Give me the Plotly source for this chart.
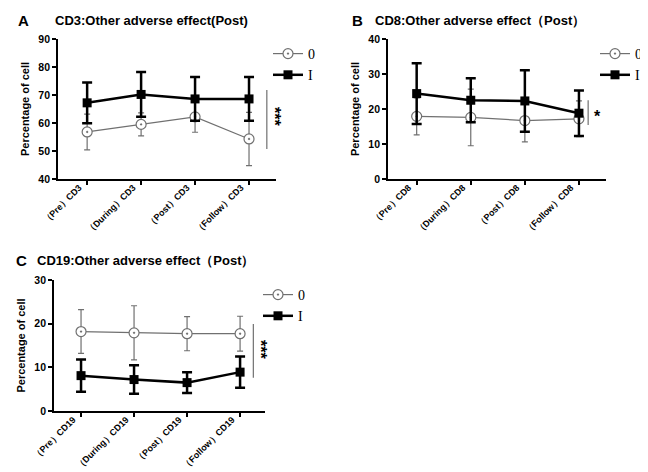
import plotly.graph_objects as go

groups = ["0", "I"]

cats_a = ["（Pre）CD3", "（During）CD3", "（Post）CD3", "（Follow）CD3"]
a0_mean = [56.8, 59.5, 62.2, 54.3]
a0_sd = [6.4, 4.1, 5.5, 9.5]
a1_mean = [67.2, 70.2, 68.6, 68.6]
a1_sd = [7.3, 8.0, 7.8, 7.8]

cats_b = ["（Pre）CD8", "（During）CD8", "（Post）CD8", "（Follow）CD8"]
b0_mean = [17.9, 17.6, 16.7, 17.2]
b0_sd = [5.3, 8.1, 6.1, 5.1]
b1_mean = [24.4, 22.5, 22.3, 18.8]
b1_sd = [8.7, 6.3, 8.8, 6.5]

cats_c = ["（Pre）CD19", "（During）CD19", "（Post）CD19", "（Follow）CD19"]
c0_mean = [18.2, 17.9, 17.7, 17.7]
c0_sd = [5.0, 6.2, 3.9, 4.0]
c1_mean = [8.1, 7.2, 6.5, 8.9]
c1_sd = [3.7, 3.25, 2.4, 3.6]

titles = ["CD3:Other adverse effect(Post)",
          "CD8:Other adverse effect（Post）",
          "CD19:Other adverse effect（Post）"]
letters = ["A", "B", "C"]
signif = ["***", "*", "***"]

FONT = "Liberation Sans, Arial, sans-serif"
GREY = "#707070"

fig = go.Figure()

panels = [
    (cats_a, a0_mean, a0_sd, a1_mean, a1_sd, "x", "y", "legend"),
    (cats_b, b0_mean, b0_sd, b1_mean, b1_sd, "x2", "y2", "legend2"),
    (cats_c, c0_mean, c0_sd, c1_mean, c1_sd, "x3", "y3", "legend3"),
]

for cats, m0, s0, m1, s1, xa, ya, lg in panels:
    fig.add_trace(go.Scatter(
        x=cats, y=m0, name=groups[0], xaxis=xa, yaxis=ya, legend=lg,
        mode="lines+markers",
        line=dict(color=GREY, width=1.2),
        marker=dict(symbol="circle-dot", size=10, color="white",
                    line=dict(color=GREY, width=1.2)),
        error_y=dict(type="data", array=s0, color=GREY, thickness=1.2, width=3),
    ))
    fig.add_trace(go.Scatter(
        x=cats, y=m1, name=groups[1], xaxis=xa, yaxis=ya, legend=lg,
        mode="lines+markers",
        line=dict(color="black", width=2.5),
        marker=dict(symbol="square", size=9, color="black"),
        error_y=dict(type="data", array=s1, color="black", thickness=2.5, width=5),
    ))

xdom = [[50 / 648, 268 / 648], [380 / 648, 598 / 648], [46 / 648, 257 / 648]]
ydom = [[1 - 171 / 472, 1 - 31 / 472], [1 - 171 / 472, 1 - 31 / 472],
        [1 - 403 / 472, 1 - 272 / 472]]
xr = [[-0.54, 3.5], [-0.53, 3.5], [-0.51, 3.47]]
yr = [[40, 90], [0, 40], [0, 30]]

for i in range(3):
    sfx = "" if i == 0 else str(i + 1)
    fig.layout["xaxis" + sfx] = dict(
        domain=xdom[i], anchor="y" + sfx, range=xr[i], type="category",
        showgrid=False, zeroline=False, showline=True, linecolor="black",
        linewidth=1.8, ticks="outside", ticklen=4, tickwidth=1.5,
        tickcolor="black", tickangle=-45,
        ticklabelstandoff=-6, ticklabelshift=-8,
        tickfont=dict(family=FONT, size=9, color="black", weight="bold"),
    )
    fig.layout["yaxis" + sfx] = dict(
        domain=ydom[i], anchor="x" + sfx, range=yr[i], dtick=10,
        showgrid=False, zeroline=False, showline=True, linecolor="black",
        linewidth=1.8, ticks="outside", ticklen=4, tickwidth=1.5,
        tickcolor="black",
        tickfont=dict(family=FONT, size=10.5, color="black", weight="bold"),
        title=dict(text="Percentage of cell", standoff=6,
                   font=dict(family=FONT, size=11, color="black", weight="bold")),
    )

# legends
leg_pos = [(260, 30), (587, 30), (250, 271)]
for i, (lx, ly) in enumerate(leg_pos):
    key = "legend" if i == 0 else "legend" + str(i + 1)
    fig.layout[key] = dict(
        x=lx / 648, y=1 - ly / 472, xanchor="left", yanchor="top",
        bgcolor="rgba(0,0,0,0)", itemwidth=30, tracegroupgap=0,
        font=dict(family="Liberation Serif, Times New Roman, serif", size=14,
                  color="black"),
    )

# significance brackets
sig_lines = [("x", "y", 3.33, 50.7, 71.8), ("x2", "y2", 3.17, 15.4, 22.5),
             ("x3", "y3", 3.25, 7.6, 19.9)]
for xa, ya, sx, y0, y1 in sig_lines:
    fig.add_shape(type="line", xref=xa, yref=ya, x0=sx, x1=sx, y0=y0, y1=y1,
                  line=dict(color=GREY, width=1.2))

star_pos = [(267, 108, 90), (589, 109, 0), (253, 341, 90)]
for i, (sx, sy, ang) in enumerate(star_pos):
    fig.add_annotation(x=sx / 648, y=1 - sy / 472, xref="paper", yref="paper",
                       text=signif[i], showarrow=False, textangle=ang,
                       xanchor="center", yanchor="middle",
                       font=dict(family=FONT, size=16, color="black", weight="bold"))

# titles and panel letters
title_pos = [(45, 12), (365, 12), (27, 252)]
letter_pos = [(8, 12), (342, 12), (6, 252)]
for i in range(3):
    fig.add_annotation(x=title_pos[i][0] / 648, y=1 - title_pos[i][1] / 472,
                       xref="paper", yref="paper", text=titles[i],
                       showarrow=False, xanchor="left", yanchor="middle",
                       font=dict(family=FONT, size=13, color="black", weight="bold"))
    fig.add_annotation(x=letter_pos[i][0] / 648, y=1 - letter_pos[i][1] / 472,
                       xref="paper", yref="paper", text=letters[i],
                       showarrow=False, xanchor="left", yanchor="middle",
                       font=dict(family=FONT, size=15, color="black", weight="bold"))

fig.update_layout(
    width=648, height=472,
    margin=dict(l=0, r=0, t=0, b=0, autoexpand=False),
    plot_bgcolor="white", paper_bgcolor="white", showlegend=True,
)

fig.write_html("out.html")
